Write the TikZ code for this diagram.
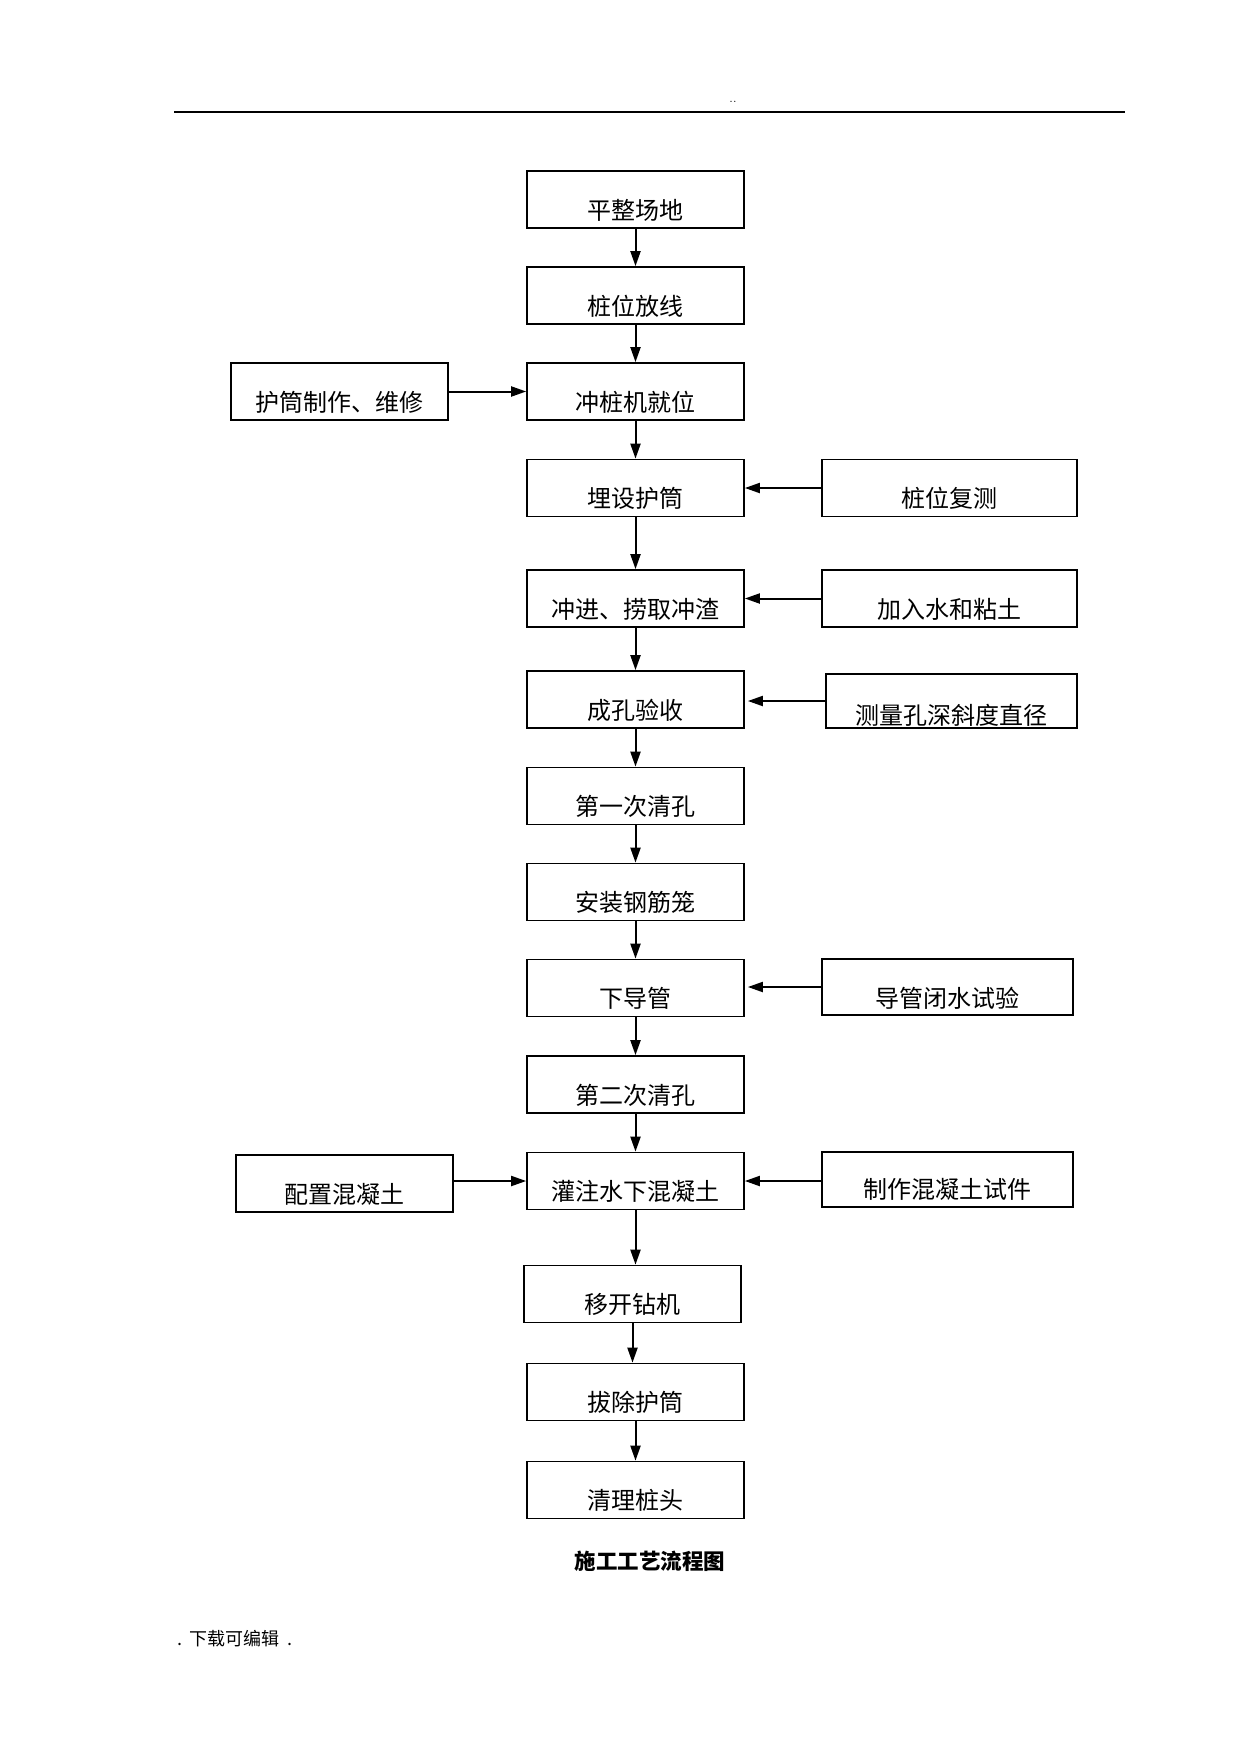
\documentclass[tikz,border=0pt]{standalone}
\usepackage{fontspec}
\newfontfamily\cjk{Noto Sans CJK SC}
\usetikzlibrary{arrows.meta}
\tikzset{
  box/.style={draw, line width=1.7pt, minimum width=217pt, inner xsep=0pt, inner ysep=0pt,
    text height=48pt, text depth=9pt, font=\cjk\fontsize{24}{24}\selectfont},
  arr/.style={-{Triangle[length=15pt,width=10pt]}, line width=2pt},
}
\begin{document}
\begin{tikzpicture}[x=1pt,y=-1pt]
\useasboundingbox (0,0) rectangle (1240,1753);
% header
\coordinate (hl) at (174,112);
\coordinate (hr) at (1125,112);
\draw[line width=1.5pt] (hl) -- (hr);
\node[font=\fontsize{13}{13}\selectfont] (hdots) at (733,102) {..};
% main column
\node[box] (b1) at (635.5,199.5) {平整场地};
\node[box] (b2) at (635.5,295.5) {桩位放线};
\node[box] (b3) at (635.5,391.5) {冲桩机就位};
\node[box] (b4) at (635.5,488) {埋设护筒};
\node[box] (b5) at (635.5,598.5) {冲进、捞取冲渣};
\node[box] (b6) at (635.5,699.5) {成孔验收};
\node[box] (b7) at (635.5,796) {第一次清孔};
\node[box] (b8) at (635.5,892) {安装钢筋笼};
\node[box] (b9) at (635.5,988) {下导管};
\node[box] (b10) at (635.5,1084.5) {第二次清孔};
\node[box] (b11) at (635.5,1181) {灌注水下混凝土};
\node[box] (b12) at (632.5,1294) {移开钻机};
\node[box] (b13) at (635.5,1392) {拔除护筒};
\node[box] (b14) at (635.5,1490) {清理桩头};
% side boxes
\node[box] (L1) at (339.5,391.5) {护筒制作、维修};
\node[box] (L2) at (344.5,1183.5) {配置混凝土};
\node[box, minimum width=255pt] (R1) at (949.5,488) {桩位复测};
\node[box, minimum width=255pt] (R2) at (949.5,598.5) {加入水和粘土};
\node[box, minimum width=251pt, text height=50pt, text depth=4pt] (R3) at (951.5,701) {测量孔深斜度直径};
\node[box, minimum width=251pt, text height=48pt, text depth=8pt] (R4) at (947.5,987) {导管闭水试验};
\node[box, minimum width=251pt, text height=46pt, text depth=9pt] (R5) at (947.5,1179.5) {制作混凝土试件};
% vertical arrows
\draw[arr] (b1) -- (b2);
\draw[arr] (b2) -- (b3);
\draw[arr] (b3) -- (b4);
\draw[arr] (b4) -- (b5);
\draw[arr] (b5) -- (b6);
\draw[arr] (b6) -- (b7);
\draw[arr] (b7) -- (b8);
\draw[arr] (b8) -- (b9);
\draw[arr] (b9) -- (b10);
\draw[arr] (b10) -- (b11);
\draw[arr] (b11.south) -- (b11.south |- b12.north);
\draw[arr] (b12.south) -- (b12.south |- b13.north);
\draw[arr] (b13) -- (b14);
% horizontal arrows
\draw[arr] (L1.east) -- (b3.west);
\draw[arr] (L2.east |- b11) -- (b11.west);
\draw[arr] (R1.west) -- (R1.west -| b4.east);
\draw[arr] (R2.west) -- (R2.west -| b5.east);
\draw[arr, shorten >=3pt] (R3.west) -- (R3.west -| b6.east);
\draw[arr, shorten >=3pt] (R4.west) -- (R4.west -| b9.east);
\draw[arr] (R5.west |- b11) -- (b11.east);
% caption and footer
\node[font=\cjk\bfseries\fontsize{21.5}{22}\selectfont] (cap) at (650,1561) {施工工艺流程图};
\node[font=\cjk\fontsize{18}{18}\selectfont, anchor=west, inner sep=0pt] (foot) at (177,1639) {.\ \,下载可编辑\ \ .};
\end{tikzpicture}
\end{document}
